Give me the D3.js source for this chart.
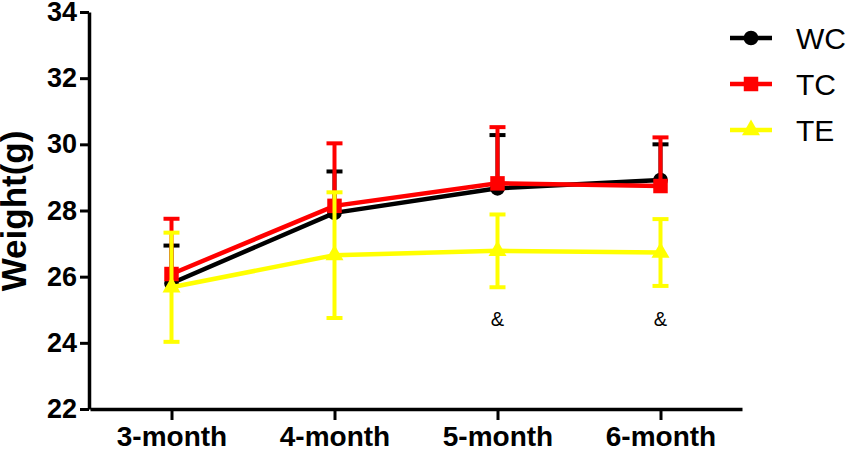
<!DOCTYPE html>
<html>
<head>
<meta charset="utf-8">
<script src="https://cdn.jsdelivr.net/npm/d3@7"></script>
<style>
  body { margin: 0; background: #fff; }
  svg { display: block; font-family: "Liberation Sans", Arial, sans-serif; }
</style>
</head>
<body>
<div id="chart"></div>
<script>
var months = ["3-month", "4-month", "5-month", "6-month"];
var yTicks = [22, 24, 26, 28, 30, 32, 34];

var wcMean = [25.80, 27.93, 28.67, 28.92];
var wcSD   = [1.14, 1.25, 1.61, 1.08];
var tcMean = [26.08, 28.14, 28.82, 28.74];
var tcSD   = [1.67, 1.89, 1.70, 1.47];
var teMean = [25.68, 26.65, 26.78, 26.73];
var teSD   = [1.65, 1.90, 1.10, 1.01];

// "&" marks under TE
var signif = ["", "", "&", "&"];

var width = 850, height = 454;

var svg = d3.select("#chart").append("svg")
    .attr("width", width)
    .attr("height", height);

var x = d3.scalePoint().domain(months).range([90, 742]).padding(0.5);
var y = d3.scaleLinear().domain([22, 34]).range([409, 12]);

// axes
var xAxis = svg.append("g")
    .attr("transform", "translate(0,409)")
    .call(d3.axisBottom(x).tickSize(11).tickPadding(6).tickSizeOuter(0));
xAxis.select(".domain").attr("stroke-width", 3.5);
xAxis.selectAll(".tick line").attr("stroke-width", 3);
xAxis.selectAll("text")
    .attr("font-size", 28)
    .attr("font-weight", "bold")
    .attr("fill", "#000")
    .attr("font-family", "Liberation Sans, Arial, sans-serif");

var yAxis = svg.append("g")
    .attr("transform", "translate(89,0)")
    .call(d3.axisLeft(y).tickValues(yTicks).tickFormat(d3.format("d")).tickSize(9).tickPadding(3).tickSizeOuter(0));
yAxis.select(".domain").attr("stroke-width", 3.5);
yAxis.selectAll(".tick line").attr("stroke-width", 3);
yAxis.selectAll("text")
    .attr("font-size", 27)
    .attr("font-weight", "bold")
    .attr("fill", "#000")
    .attr("font-family", "Liberation Sans, Arial, sans-serif");

svg.append("text")
    .attr("transform", "translate(26,211) rotate(-90)")
    .attr("text-anchor", "middle")
    .attr("font-size", 35)
    .attr("font-weight", "bold")
    .text("Weight(g)");

var series = [
  { name: "WC", mean: wcMean, sd: wcSD, color: "#000000", shape: d3.symbolCircle, size: 170, both: false },
  { name: "TC", mean: tcMean, sd: tcSD, color: "#ff0000", shape: d3.symbolSquare, size: 210, both: false },
  { name: "TE", mean: teMean, sd: teSD, color: "#ffff00", shape: d3.symbolTriangle, size: 140, both: true }
];

var line = d3.line()
    .x(function(d, i) { return x(months[i]); })
    .y(function(d) { return y(d); });

series.forEach(function(s) {
  var g = svg.append("g");
  var pts = s.mean.map(function(m, i) {
    return { m: m, sd: s.sd[i], k: months[i] };
  });

  // error bars
  var eb = g.selectAll(".eb").data(pts).enter().append("g");
  eb.append("line")
      .attr("x1", function(d) { return x(d.k); })
      .attr("x2", function(d) { return x(d.k); })
      .attr("y1", function(d) { return y(s.both ? d.m - d.sd : d.m); })
      .attr("y2", function(d) { return y(d.m + d.sd); })
      .attr("stroke", s.color)
      .attr("stroke-width", 4);
  eb.append("line")
      .attr("x1", function(d) { return x(d.k) - 8; })
      .attr("x2", function(d) { return x(d.k) + 8; })
      .attr("y1", function(d) { return y(d.m + d.sd); })
      .attr("y2", function(d) { return y(d.m + d.sd); })
      .attr("stroke", s.color)
      .attr("stroke-width", 4);
  if (s.both) {
    eb.append("line")
        .attr("x1", function(d) { return x(d.k) - 8; })
        .attr("x2", function(d) { return x(d.k) + 8; })
        .attr("y1", function(d) { return y(d.m - d.sd); })
        .attr("y2", function(d) { return y(d.m - d.sd); })
        .attr("stroke", s.color)
        .attr("stroke-width", 4);
  }

  g.append("path")
      .datum(s.mean)
      .attr("d", line)
      .attr("fill", "none")
      .attr("stroke", s.color)
      .attr("stroke-width", 4.5);

  g.selectAll(".pt").data(pts).enter().append("path")
      .attr("transform", function(d) { return "translate(" + x(d.k) + "," + y(d.m) + ")"; })
      .attr("d", d3.symbol().type(s.shape).size(s.size))
      .attr("fill", s.color);
});

// significance marks
svg.selectAll(".sig").data(signif).enter().append("text")
    .attr("x", function(d, i) { return x(months[i]); })
    .attr("y", 326)
    .attr("text-anchor", "middle")
    .attr("font-size", 20)
    .text(function(d) { return d; });

// legend
var legend = svg.append("g").attr("transform", "translate(730,38)");
series.forEach(function(s, i) {
  var r = legend.append("g").attr("transform", "translate(0," + (i * 46) + ")");
  r.append("line")
      .attr("x1", 0).attr("x2", 42)
      .attr("stroke", s.color)
      .attr("stroke-width", 4.5);
  r.append("path")
      .attr("transform", "translate(21,0)")
      .attr("d", d3.symbol().type(s.shape).size(s.size))
      .attr("fill", s.color);
  r.append("text")
      .attr("x", 66)
      .attr("y", 11)
      .attr("font-size", 30)
      .text(s.name);
});
</script>
</body>
</html>
